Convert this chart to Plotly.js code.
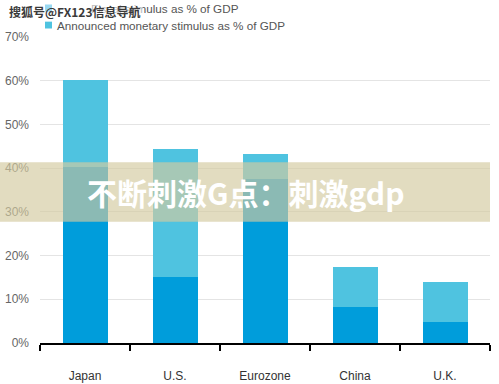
<!DOCTYPE html>
<html>
<head>
<meta charset="utf-8">
<script src="https://cdn.plot.ly/plotly-3.0.1.min.js"></script>
<style>html,body{margin:0;padding:0;background:#fff;}#chart{width:499px;height:384px;}</style>
</head>
<body>
<div id="chart"></div>
<script>
// Data
var categories = ['Japan', 'U.S.', 'Eurozone', 'China', 'U.K.'];
var fiscalStimulus = [40.2, 15.1, 37.5, 8.2, 4.9];
var monetaryStimulus = [20.0, 29.2, 5.8, 9.2, 9.0];
var yTickValues = [0, 10, 20, 30, 40, 50, 60, 70];
var yTickLabels = ['0%', '10%', '20%', '30%', '40%', '50%', '60%', '70%'];
var seriesNames = ['Fiscal stimulus as % of GDP', 'Announced monetary stimulus as % of GDP'];
var bannerText = '不断刺激G点：刺激gdp';
var watermarkText = '搜狐号@FX123信息导航';

var darkBlue = '#009ddb';
var lightBlue = '#4fc3e0';

// pixel helpers for decorations (plot area: x 40..490, y 37..343)
var L = 40, R = 9, T = 37, B = 41, W = 499, H = 384;
var PW = W - L - R, PH = H - T - B;
function px(x) { return (x - L) / PW; }
function py(y) { return (H - B - y) / PH; }

var traces = [
  { type: 'bar', x: categories, y: fiscalStimulus, name: seriesNames[0],
    marker: { color: darkBlue }, hoverinfo: 'none' },
  { type: 'bar', x: categories, y: monetaryStimulus, name: seriesNames[1],
    marker: { color: lightBlue }, hoverinfo: 'none' }
];

var layout = {
  width: W, height: H,
  margin: { l: L, r: R, t: T, b: B, pad: 0 },
  barmode: 'stack',
  bargap: 0.5,
  showlegend: false,
  paper_bgcolor: '#fff',
  plot_bgcolor: '#fff',
  font: { family: 'Liberation Sans, Arial, sans-serif', size: 12, color: '#555' },
  xaxis: {
    type: 'category',
    showgrid: false,
    showline: true, linecolor: '#000', linewidth: 2,
    ticks: 'outside', tickson: 'boundaries', ticklen: 6, tickwidth: 2, tickcolor: '#000',
    tickfont: { size: 12, color: '#333' },
    ticklabelstandoff: 21,
    zeroline: false
  },
  yaxis: {
    range: [0, 70],
    tickvals: yTickValues, ticktext: yTickLabels,
    showgrid: true, gridcolor: '#e4e4e4', gridwidth: 1,
    showline: false, zeroline: false, ticks: '',
    tickfont: { size: 12, color: '#666' },
    ticklabelstandoff: 10
  },
  shapes: [
    // legend swatches
    { type: 'rect', xref: 'paper', yref: 'paper', x0: px(45), x1: px(52), y0: py(11.5), y1: py(4.5),
      fillcolor: darkBlue, line: { width: 0 } },
    { type: 'rect', xref: 'paper', yref: 'paper', x0: px(45), x1: px(52), y0: py(28.5), y1: py(21.5),
      fillcolor: lightBlue, line: { width: 0 } },
    // watermark banner
    { type: 'rect', xref: 'paper', yref: 'paper', x0: px(0), x1: px(490), y0: py(221.7), y1: py(162.3),
      fillcolor: 'rgba(211,202,160,0.66)', line: { width: 0 }, layer: 'above' }
  ],
  annotations: [
    { xref: 'paper', yref: 'paper', x: px(241), y: py(8.5), xanchor: 'right', yanchor: 'middle',
      text: seriesNames[0], showarrow: false, font: { size: 11.7, color: '#555' } },
    { xref: 'paper', yref: 'paper', x: px(55), y: py(25.5), xanchor: 'left', yanchor: 'middle',
      text: seriesNames[1], showarrow: false, font: { size: 11.7, color: '#555' } },
    { xref: 'paper', yref: 'paper', x: px(7), y: py(11), xanchor: 'left', yanchor: 'middle',
      text: '<b>' + watermarkText + '</b>', showarrow: false, bgcolor: 'rgba(255,255,255,0.6)',
      font: { family: 'Noto Sans CJK SC', size: 12, color: '#3a3a3a' } },
    { xref: 'paper', yref: 'paper', x: px(246), y: py(192), xanchor: 'center', yanchor: 'middle',
      text: '<b>' + bannerText + '</b>', showarrow: false,
      font: { family: 'Noto Sans CJK SC', size: 30, color: '#ffffff' } }
  ]
};

Plotly.newPlot('chart', traces, layout, { staticPlot: true, displayModeBar: false });
</script>
</body>
</html>
